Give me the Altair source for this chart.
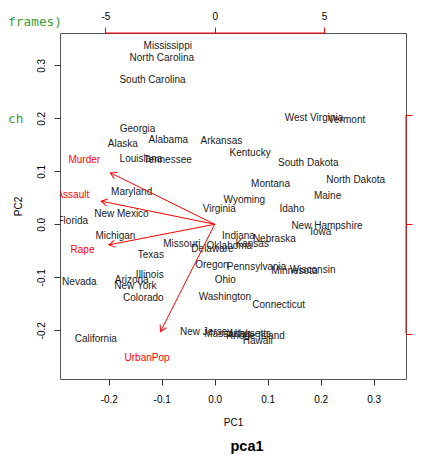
import altair as alt
import pandas as pd

FONT = "Liberation Sans"

states = ["Alabama", "Alaska", "Arizona", "Arkansas", "California", "Colorado",
          "Connecticut", "Delaware", "Florida", "Georgia", "Hawaii", "Idaho",
          "Illinois", "Indiana", "Iowa", "Kansas", "Kentucky", "Louisiana",
          "Maine", "Maryland", "Massachusetts", "Michigan", "Minnesota",
          "Mississippi", "Missouri", "Montana", "Nebraska", "Nevada",
          "New Hampshire", "New Jersey", "New Mexico", "New York",
          "North Carolina", "North Dakota", "Ohio", "Oklahoma", "Oregon",
          "Pennsylvania", "Rhode Island", "South Carolina", "South Dakota",
          "Tennessee", "Texas", "Utah", "Vermont", "Virginia", "Washington",
          "West Virginia", "Wisconsin", "Wyoming"]
pc1 = [-0.0876, -0.1734, -0.1567, 0.0126, -0.2244, -0.1346, 0.1208, -0.0042,
       -0.2679, -0.1457, 0.0811, 0.1458, -0.1226, 0.0449, 0.2003, 0.0708,
       0.0668, -0.1391, 0.2131, -0.1568, 0.0432, -0.1874, 0.1505, -0.0886,
       -0.0619, 0.1054, 0.1125, -0.2555, 0.2119, -0.0161, -0.1760, -0.1496,
       -0.0999, 0.2660, 0.0201, 0.0277, -0.0053, 0.0790, 0.0768, -0.1174,
       0.1767, -0.0889, -0.1205, 0.0489, 0.2490, 0.0086, 0.0193, 0.1874,
       0.1849, 0.0560]
pc2 = [0.1595, 0.1510, -0.1050, 0.1576, -0.2171, -0.1390, -0.1532, -0.0458,
       0.0055, 0.1800, -0.2210, 0.0297, -0.0960, -0.0213, -0.0146, -0.0380,
       0.1349, 0.1226, 0.0530, 0.0602, -0.2075, -0.0219, -0.0890, 0.3369,
       -0.0371, 0.0756, -0.0273, -0.1091, -0.0025, -0.2040, 0.0201, -0.1158,
       0.3135, 0.0843, -0.1045, -0.0405, -0.0762, -0.0804, -0.2100, 0.2721,
       0.1159, 0.1211, -0.0581, -0.2071, 0.1973, 0.0281, -0.1365, 0.2005,
       -0.0860, 0.0452]

variables = ["Murder", "Assault", "UrbanPop", "Rape"]
load1 = [-5.968, -6.494, -3.098, -6.052]
load2 = [2.942, 1.322, -6.140, -1.177]

obs_lim = [-0.2920, 0.3611]
var_lim = [-7.081, 8.754]
obs_ticks = [-0.2, -0.1, 0.0, 0.1, 0.2, 0.3]
var_ticks = [-5, 0, 5]

df_obs = pd.DataFrame({"state": states, "PC1": pc1, "PC2": pc2})
df_var = pd.DataFrame({"var": variables, "L1": load1, "L2": load2})
df_axisline = pd.DataFrame({"lo": [min(var_ticks)], "hi": [max(var_ticks)]})
df_one = pd.DataFrame({"k": [0]})

RED = "#ff0000"
INK = "#1a1a1a"
GREEN = "#3f9a35"
num1 = "datum.value < 0 ? '-' + format(-datum.value, '.1f') : format(datum.value, '.1f')"
num0 = "datum.value < 0 ? '-' + format(-datum.value, '.0f') : format(datum.value, '.0f')"

so = alt.Scale(domain=obs_lim, nice=False, zero=False)
sv = alt.Scale(domain=var_lim, nice=False, zero=False)

common_axis = dict(grid=False, domain=False, tickSize=6, labelFont=FONT,
                   labelFontSize=10, labelColor="#000", titleFont=FONT,
                   titleFontSize=10, titleFontWeight="normal", titleColor="#000")

ax_bottom = alt.Axis(orient="bottom", values=obs_ticks, labelExpr=num1, title="PC1",
                     tickColor="#333", labelPadding=9, titlePadding=13, **common_axis)
ax_left = alt.Axis(orient="left", values=obs_ticks, labelExpr=num1, title="PC2",
                   tickColor="#333", labelAngle=270, labelAlign="center",
                   labelBaseline="bottom", labelPadding=8, titlePadding=13,
                   **common_axis)
ax_top = alt.Axis(orient="top", values=var_ticks, labelExpr=num0, title=None,
                  tickColor=RED, labelPadding=6, **common_axis)
# right-axis labels fall outside the visible window in the reference
ax_right = alt.Axis(orient="right", values=var_ticks, labels=False, title=None,
                    tickColor=RED, **common_axis)

# ---- observation marks ----
obs_text = alt.Chart(df_obs).mark_text(font=FONT, fontSize=10, color=INK, clip=True).encode(
    x=alt.X("PC1:Q", scale=so, axis=ax_bottom),
    y=alt.Y("PC2:Q", scale=so, axis=ax_left),
    text="state:N",
)

# ---- background editor text visible in the screenshot ----
code1 = alt.Chart(df_one).mark_text(font="DejaVu Sans Mono", fontSize=12.8, color=GREEN,
                                    align="right", baseline="alphabetic").encode(
    x=alt.value(2), y=alt.value(-7), text=alt.value("frames)"))
code2 = alt.Chart(df_one).mark_text(font="DejaVu Sans Mono", fontSize=12.8, color=GREEN,
                                    align="left", baseline="alphabetic").encode(
    x=alt.value(-52), y=alt.value(90), text=alt.value("ch"))

# ---- variable (loading) marks ----
vbase = alt.Chart(df_var).transform_calculate(
    o="0", t1="0.8 * datum.L1", t2="0.8 * datum.L2",
    ang="(atan2(datum.L1, datum.L2) * 180 / PI + 360) % 360",
)
shafts = vbase.mark_rule(color=RED, strokeWidth=1, clip=True).encode(
    x=alt.X("o:Q", scale=sv, axis=ax_top),
    y=alt.Y("o:Q", scale=sv, axis=ax_right),
    x2="t1:Q", y2="t2:Q",
)
heads = vbase.mark_point(shape="M-0.5,0.866L0,0L0.5,0.866", filled=False, size=196,
                         color=RED, strokeWidth=1, opacity=1, clip=True).encode(
    x=alt.X("t1:Q", scale=sv, axis=None),
    y=alt.Y("t2:Q", scale=sv, axis=None),
    angle=alt.Angle("ang:Q", scale=None),
)
vlabels = alt.Chart(df_var).mark_text(font=FONT, fontSize=10, color=RED, clip=True).encode(
    x=alt.X("L1:Q", scale=sv, axis=None),
    y=alt.Y("L2:Q", scale=sv, axis=None),
    text="var:N",
)
top_line = alt.Chart(df_axisline).mark_rule(color=RED, strokeWidth=1).encode(
    x=alt.X("lo:Q", scale=sv, axis=None), x2="hi:Q", y=alt.value(0))
right_line = alt.Chart(df_axisline).mark_rule(color=RED, strokeWidth=1).encode(
    y=alt.Y("lo:Q", scale=sv, axis=None), y2="hi:Q", x=alt.value(346))

chart = alt.layer(
    obs_text, code1, code2, shafts, heads, vlabels, top_line, right_line
).resolve_scale(
    x="independent", y="independent"
).properties(
    width=346, height=346,
    autosize="none",
    padding={"left": 52, "top": 25, "right": 8, "bottom": 75},
    title=alt.TitleParams(text="pca1", orient="bottom", anchor="middle", frame="group",
                          baseline="alphabetic", font=FONT, fontSize=14.5,
                          fontWeight="bold", color="#000", offset=24, dx=14),
).configure_view(stroke="#555555", strokeWidth=1)

chart.save("out.html", embed_options={"renderer": "svg", "actions": False})
